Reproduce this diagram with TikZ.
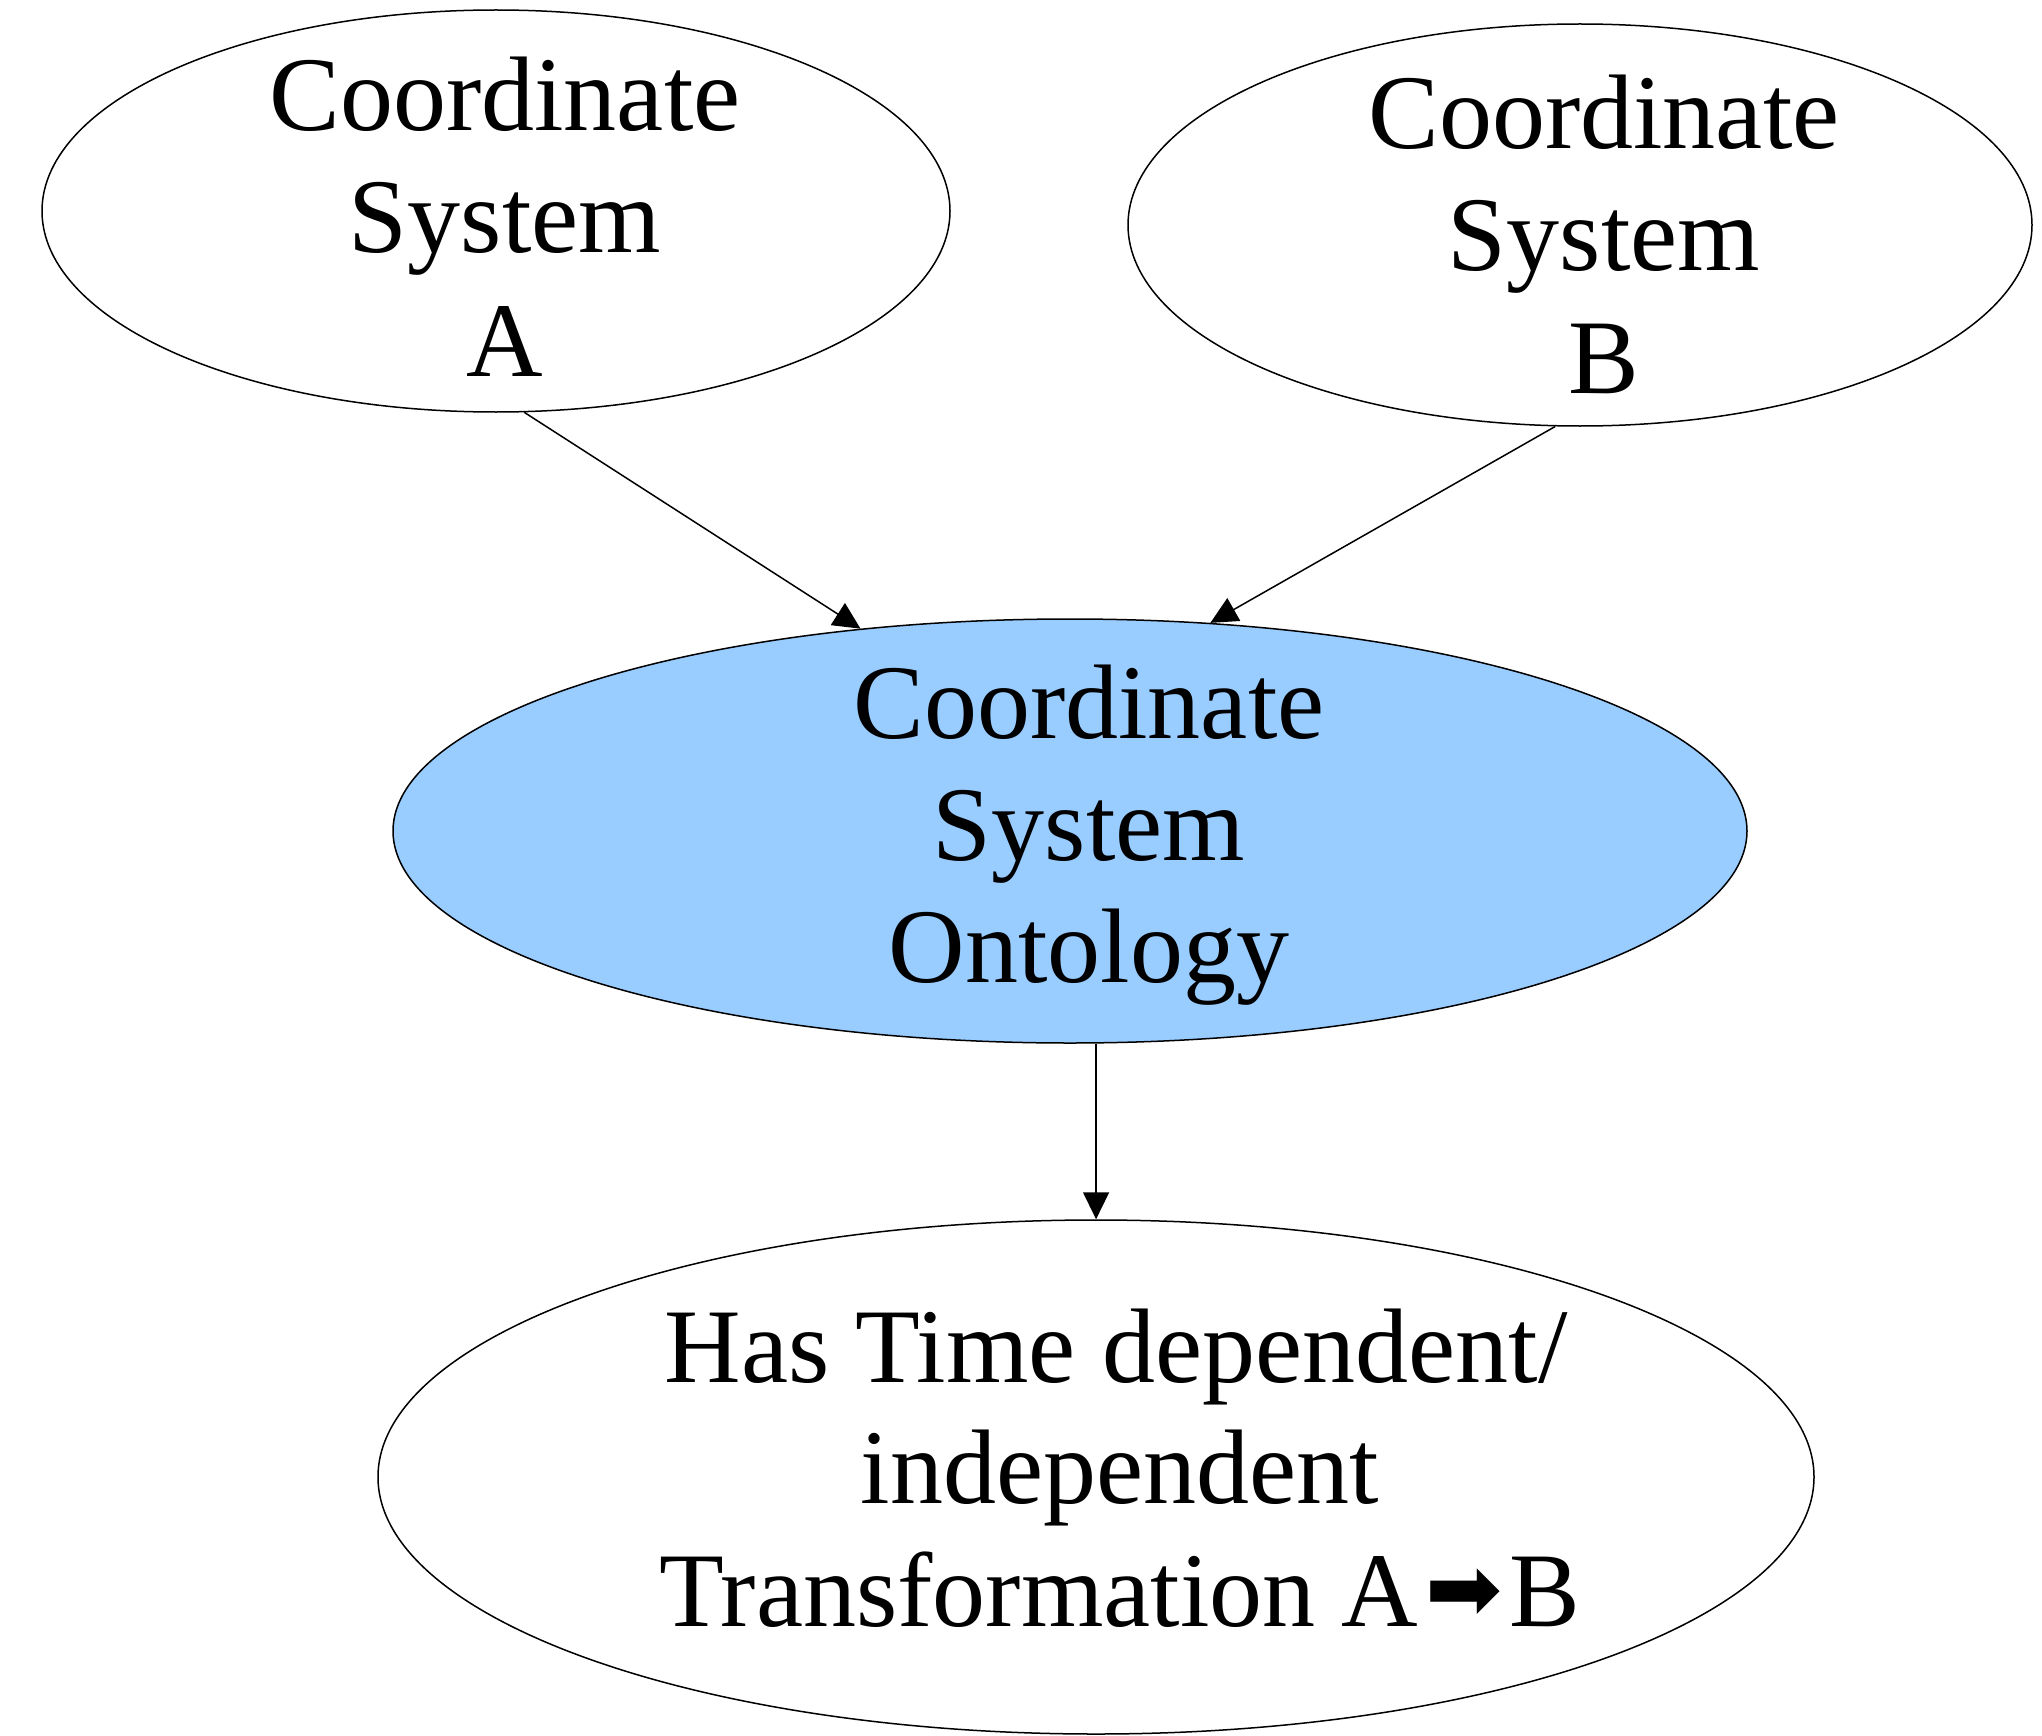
\documentclass[tikz,border=0pt]{standalone}
\usepackage{fontspec}
\setmainfont{Liberation Serif}
\newfontfamily\arrowfont{DejaVu Sans}
\usetikzlibrary{shapes.geometric,arrows.meta}
\definecolor{ontoblue}{RGB}{153,204,255}
\begin{document}
\begin{tikzpicture}[x=1pt,y=-1pt,
  oval/.style={ellipse, draw=black, line width=1.5pt, inner sep=0pt},
  txt/.style={anchor=base, inner sep=0pt, font=\fontsize{106}{122}\selectfont},
  conn/.style={line width=1.5pt, -{Triangle[length=27pt,width=26pt]}}]
\useasboundingbox (0,0) rectangle (2042,1736);
% ellipses
\node[oval, minimum width=908pt, minimum height=402pt] (A) at (496,211) {};
\node[oval, minimum width=904pt, minimum height=402pt] (B) at (1580,225) {};
\node[oval, fill=ontoblue, minimum width=1354pt, minimum height=424pt] (M) at (1070,831) {};
\node[oval, minimum width=1436pt, minimum height=514pt] (T) at (1096,1477) {};
% texts
\node[txt] (a1) at (505,131) {Coordinate};
\node[txt] (a2) at (505,253) {System};
\node[txt] (a3) at (505,376) {A};
\node[txt] (b1) at (1604,149) {Coordinate};
\node[txt] (b2) at (1604,271) {System};
\node[txt] (b3) at (1604,393) {B};
\node[txt] (m1) at (1089,738) {Coordinate};
\node[txt] (m2) at (1089,860) {System};
\node[txt] (m3) at (1089,982) {Ontology};
\node[txt] (t1) at (1116,1382) {Has Time dependent/};
\node[txt] (t2) at (1120,1503) {independent};
\node[txt] (t3) at (1120,1626) {Transformation A\kern7pt\raisebox{6pt}{\arrowfont\fontsize{92}{92}\selectfont ➡}\kern7pt B};
% connectors
\draw[conn] (A.-82.7) -- (M.136.2);
\draw[conn] (B.-97.0) -- (M.56.2);
\draw[conn] (M.-83.8) -- (M.-83.8 |- T.north);
\end{tikzpicture}
\end{document}
